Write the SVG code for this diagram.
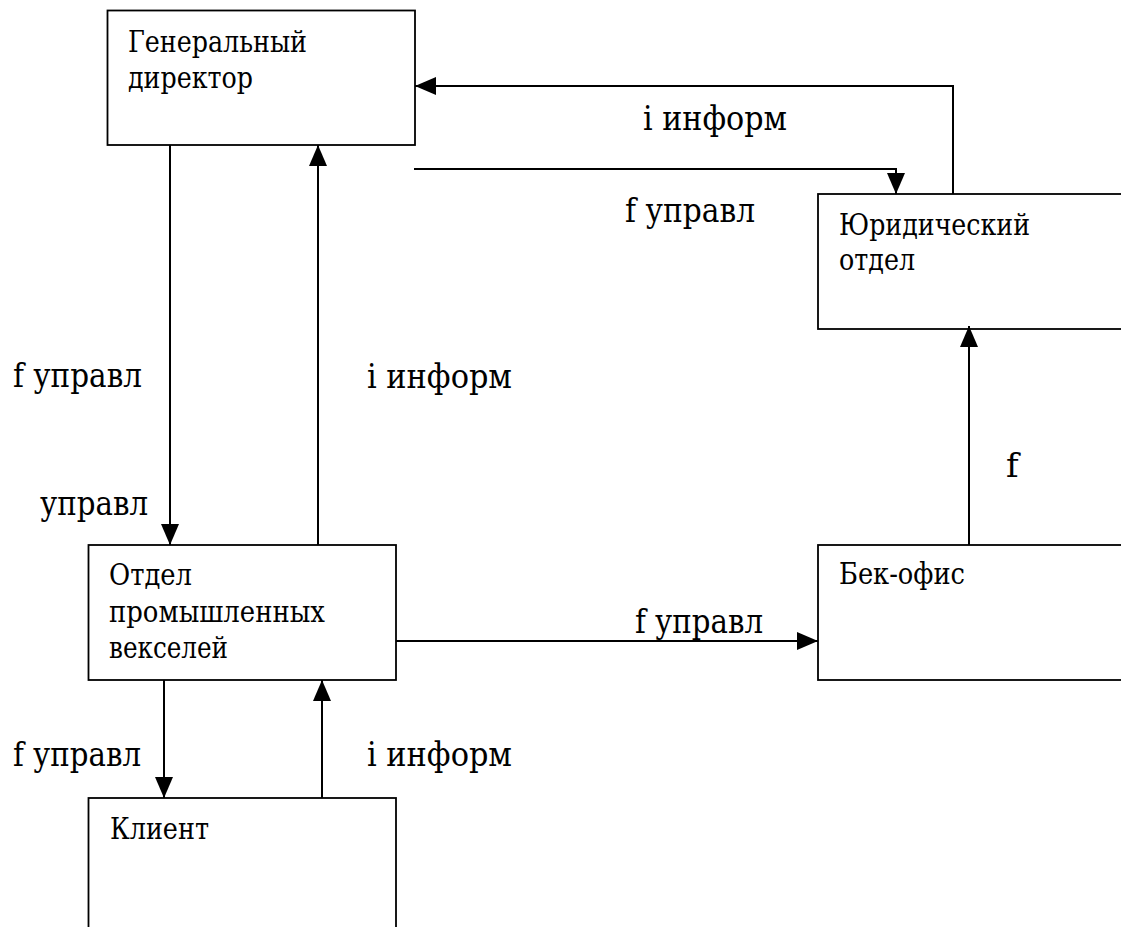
<svg xmlns="http://www.w3.org/2000/svg" width="1121" height="927" viewBox="0 0 1121 927">
  <style>
    .box { fill: #fff; stroke: #000; stroke-width: 1.8; }
    .node-text { font-family: 'DejaVu Serif', 'Liberation Serif', serif; font-size: 29px; fill: #000; }
    .label { font-family: 'DejaVu Serif', 'Liberation Serif', serif; font-size: 34px; fill: #000; }
    .edge { fill: none; stroke: #000; stroke-width: 2; }
  </style>
  <defs>
    <marker id="arrow" markerUnits="userSpaceOnUse" markerWidth="21" markerHeight="18" refX="21" refY="9" orient="auto">
      <path d="M0,0 L21,9 L0,18 Z" fill="#000"/>
    </marker>
  </defs>
  <rect width="1121" height="927" fill="#fff"/>

  <!-- organisational units -->
  <g id="node-director">
    <rect class="box" x="107.5" y="10.5" width="307.5" height="134.5"/>
    <text class="node-text" x="128" y="52" textLength="179" lengthAdjust="spacingAndGlyphs">Генеральный</text>
    <text class="node-text" x="128" y="88" textLength="125" lengthAdjust="spacingAndGlyphs">директор</text>
  </g>
  <g id="node-legal">
    <rect class="box" x="818" y="194" width="320" height="135"/>
    <text class="node-text" x="839" y="235" textLength="191" lengthAdjust="spacingAndGlyphs">Юридический</text>
    <text class="node-text" x="839" y="270" textLength="76" lengthAdjust="spacingAndGlyphs">отдел</text>
  </g>
  <g id="node-bills">
    <rect class="box" x="88.5" y="545" width="307.5" height="135"/>
    <text class="node-text" x="109" y="585" textLength="83" lengthAdjust="spacingAndGlyphs">Отдел</text>
    <text class="node-text" x="109" y="622" textLength="216" lengthAdjust="spacingAndGlyphs">промышленных</text>
    <text class="node-text" x="109" y="658" textLength="119" lengthAdjust="spacingAndGlyphs">векселей</text>
  </g>
  <g id="node-backoffice">
    <rect class="box" x="818" y="545" width="320" height="135"/>
    <text class="node-text" x="839" y="584" textLength="126" lengthAdjust="spacingAndGlyphs">Бек-офис</text>
  </g>
  <g id="node-client">
    <rect class="box" x="88.5" y="798" width="307.5" height="200"/>
    <text class="node-text" x="110" y="839" textLength="99" lengthAdjust="spacingAndGlyphs">Клиент</text>
  </g>

  <!-- flows between units -->
  <g id="connectors">
    <path class="edge" d="M170,145 V545" marker-end="url(#arrow)"/>
    <path class="edge" d="M318,545 V145" marker-end="url(#arrow)"/>
    <path class="edge" d="M953,194 V86 H415" marker-end="url(#arrow)"/>
    <path class="edge" d="M414,169 H896 V194" marker-end="url(#arrow)"/>
    <path class="edge" d="M969,545 V326" marker-end="url(#arrow)"/>
    <path class="edge" d="M396,641 H818" marker-end="url(#arrow)"/>
    <path class="edge" d="M164,680 V798" marker-end="url(#arrow)"/>
    <path class="edge" d="M322,798 V680" marker-end="url(#arrow)"/>

    <text class="label" x="643" y="130" textLength="144" lengthAdjust="spacingAndGlyphs">i информ</text>
    <text class="label" x="625" y="222" textLength="130" lengthAdjust="spacingAndGlyphs">f управл</text>
    <text class="label" x="13" y="387" textLength="129" lengthAdjust="spacingAndGlyphs">f управл</text>
    <text class="label" x="40" y="515" textLength="108" lengthAdjust="spacingAndGlyphs">управл</text>
    <text class="label" x="367" y="388" textLength="145" lengthAdjust="spacingAndGlyphs">i информ</text>
    <text class="label" x="1006" y="477">f</text>
    <text class="label" x="635" y="633" textLength="128" lengthAdjust="spacingAndGlyphs">f управл</text>
    <text class="label" x="13" y="766" textLength="128" lengthAdjust="spacingAndGlyphs">f управл</text>
    <text class="label" x="367" y="766" textLength="145" lengthAdjust="spacingAndGlyphs">i информ</text>
  </g>
</svg>
